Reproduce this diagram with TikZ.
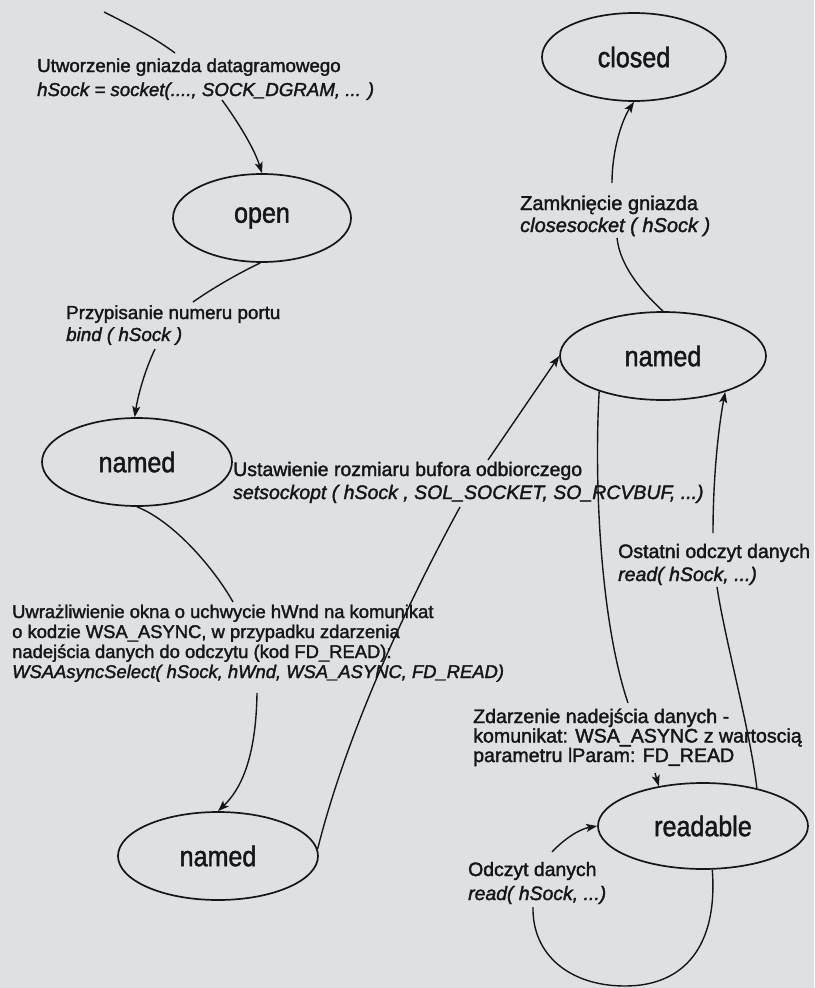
\documentclass[tikz,border=0pt]{standalone}
\usepackage{fontspec}
\setmainfont{Liberation Sans}[FakeBold=1.8]
\newfontfamily\statefont{Liberation Sans}[FakeStretch=0.88, FakeBold=1.5]
\usetikzlibrary{shapes.geometric,arrows.meta}
\definecolor{paper}{RGB}{221,225,227}
\definecolor{ink}{RGB}{22,22,22}
\tikzset{
  state/.style={ellipse, draw=ink, line width=1.7pt, inner sep=0pt,
    font=\statefont\fontsize{28.5}{28}\selectfont, text=ink},
  note/.style={anchor=base west, align=left, inner sep=0pt, text=ink},
  conn/.style={draw=ink, line width=1.4pt},
  arr/.style={conn, -{Stealth[length=11pt,width=8pt,inset=2.5pt]}},
}
\begin{document}
\begin{tikzpicture}[x=1pt,y=-1pt]
\fill[paper] (0,0) rectangle (814,988);
\useasboundingbox (0,0) rectangle (814,988);

% socket states
\node[state, minimum width=184pt, minimum height=88pt] (closed) at (634,57) {closed};
\node[state, minimum width=178pt, minimum height=88pt] (open) at (262,218) {open};
\node[state, minimum width=190pt, minimum height=88pt] (nA) at (137,462) {named};
\node[state, minimum width=206pt, minimum height=88pt] (nB) at (663,356) {named};
\node[state, minimum width=200pt, minimum height=88pt] (nC) at (218,856) {named};
\node[state, minimum width=210pt, minimum height=86pt] (rd) at (703,826) {readable};

% transition descriptions (placed by the baseline of their last line)
\node[note, font=\fontsize{18.7}{24}\selectfont] (L1) at (37,96)
  {Utworzenie gniazda datagramowego\\\itshape hSock = socket(...., SOCK\_DGRAM, ... )};
\node[note, font=\fontsize{18.8}{22}\selectfont] (L2) at (66,341)
  {Przypisanie numeru portu\\\itshape bind ( hSock )};
\node[note, font=\fontsize{20}{22}\selectfont] (L3) at (520,232)
  {Zamknięcie gniazda\\\itshape closesocket ( hSock )};
\node[note, font=\fontsize{19.5}{23}\selectfont] (L4) at (233,499)
  {Ustawienie rozmiaru bufora odbiorczego\\\itshape setsockopt ( hSock , SOL\_SOCKET, SO\_RCVBUF, ...)};
\node[note, font=\fontsize{18.4}{20}\selectfont] (L5) at (12,678)
  {Uwrażliwienie okna o uchwycie hWnd na komunikat\\
   o kodzie WSA\_ASYNC, w przypadku zdarzenia\\
   nadejścia danych do odczytu (kod FD\_READ):\\
   \itshape WSAAsyncSelect( hSock, hWnd, WSA\_ASYNC, FD\_READ)};
\node[note, font=\fontsize{19.5}{23}\selectfont] (L6) at (618,581)
  {Ostatni odczyt danych\\\itshape read( hSock, ...)};
\node[note, font=\fontsize{19.6}{19.5}\selectfont] (L7) at (473,762)
  {Zdarzenie nadejścia danych -\\komunikat: WSA\_ASYNC z wartoscią\\parametru lParam: FD\_READ};
\node[note, font=\fontsize{19.4}{24}\selectfont] (L8) at (468,900)
  {Odczyt danych\\\itshape read( hSock, ...)};

% connector ends next to the descriptions
\coordinate (top0) at (104,12);
\coordinate (c1a) at (175,53);  \coordinate (c1b) at (222,100);
\coordinate (c2a) at (193,302); \coordinate (c2b) at (155,349);
\coordinate (c3a) at (617,238); \coordinate (c3b) at (612,183);
\coordinate (c4a) at (460,507); \coordinate (c4b) at (488,460);
\coordinate (c5a) at (233,602); \coordinate (c5b) at (257,693);
\coordinate (c6a) at (717,587); \coordinate (c6b) at (713,533);
\coordinate (c7a) at (628,703); \coordinate (c7b) at (655,773);
\coordinate (c8a) at (533,907); \coordinate (c8b) at (552,852);
\coordinate (loopbot) at (625,986);

% transitions
\draw[conn] (top0) .. controls (130,25) and (155,38) .. (c1a);
\draw[arr] (c1b) .. controls (238,122) and (254,148) .. (open.north);

\draw[conn] (open.268) .. controls (235,275) and (210,290) .. (c2a);
\draw[arr] (c2b) .. controls (145,370) and (138,395) .. (nA.93);

\draw[conn] (nA.south) .. controls (175,522) and (215,570) .. (c5a);
\draw[arr] (c5b) .. controls (256,760) and (240,790) .. (nC.north);

\draw[conn] (nC.4) .. controls (345,740) and (400,617) .. (c4a);
\draw[arr] (c4b) -- (nB.west);

\draw[conn] (nB.north) .. controls (640,290) and (620,265) .. (c3a);
\draw[arr] (c3b) .. controls (612,150) and (622,120) .. (closed.south);

\draw[conn] (nB.209) .. controls (594,480) and (600,620) .. (c7a);
\draw[arr] (c7b) -- (rd.138);

\draw[conn] (rd.35) .. controls (750,730) and (725,640) .. (c6a);
\draw[arr] (c6b) .. controls (713,480) and (718,430) .. (nB.330);

\draw[conn] (rd.282) .. controls (718,945) and (685,986) .. (loopbot)
  .. controls (570,986) and (532,955) .. (c8a);
\draw[arr] (c8b) .. controls (565,838) and (580,829) .. (rd.west);
\end{tikzpicture}
\end{document}
